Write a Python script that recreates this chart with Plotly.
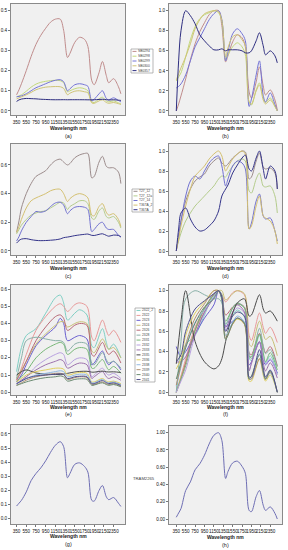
import plotly.graph_objects as go

# ---------------- data ----------------
W = [350, 400, 450, 550, 650, 750, 850, 950, 1050, 1150, 1250, 1320, 1400, 1450,
     1550, 1650, 1750, 1820, 1900, 1950, 2050, 2120, 2200, 2250, 2350, 2450, 2500]
W2 = [350, 450, 550, 750, 950, 1150, 1250, 1320, 1400, 1550, 1650, 1800, 1900,
      1950, 2120, 2200, 2250, 2350, 2500]
X_TICKS = [350, 550, 750, 950, 1150, 1350, 1550, 1750, 1950, 2150, 2350]

# (a) reflectance
A_NAMES = ["SB0294", "SB0298", "SB0299", "SB0300", "SB0357"]
A_SB0294 = [0.08, 0.105, 0.135, 0.2, 0.27, 0.33, 0.375, 0.41, 0.44, 0.455, 0.455, 0.40, 0.265, 0.285,
            0.34, 0.365, 0.355, 0.32, 0.15, 0.13, 0.19, 0.245, 0.175, 0.14, 0.16, 0.12, 0.085]
A_SB0298 = [0.07, 0.075, 0.08, 0.098, 0.118, 0.133, 0.142, 0.147, 0.15, 0.152, 0.15, 0.14, 0.095, 0.1,
            0.11, 0.115, 0.11, 0.1, 0.045, 0.042, 0.06, 0.068, 0.05, 0.045, 0.05, 0.04, 0.035]
A_SB0299 = [0.07, 0.072, 0.075, 0.085, 0.1, 0.115, 0.125, 0.135, 0.145, 0.152, 0.155, 0.145, 0.1, 0.11,
            0.13, 0.135, 0.13, 0.122, 0.05, 0.058, 0.085, 0.1, 0.062, 0.055, 0.065, 0.052, 0.045]
A_SB0300 = [0.06, 0.065, 0.07, 0.08, 0.092, 0.105, 0.113, 0.118, 0.12, 0.121, 0.12, 0.112, 0.08, 0.088,
            0.098, 0.1, 0.095, 0.09, 0.04, 0.038, 0.05, 0.055, 0.042, 0.038, 0.042, 0.036, 0.032]
A_SB0357 = [0.047, 0.055, 0.059, 0.062, 0.061, 0.06, 0.058, 0.057, 0.056, 0.0555, 0.0557, 0.0558, 0.0555, 0.0557,
            0.0557, 0.0557, 0.0555, 0.0552, 0.0552, 0.0555, 0.057, 0.058, 0.056, 0.0545, 0.0555, 0.0535, 0.0522]

# (b) normalised
B_SB0294 = [0.0, 0.07, 0.15, 0.32, 0.51, 0.67, 0.79, 0.88, 0.96, 1.0, 1.0, 0.85, 0.49, 0.55,
            0.69, 0.76, 0.73, 0.64, 0.19, 0.13, 0.29, 0.44, 0.25, 0.16, 0.21, 0.11, 0.01]
B_SB0298 = [0.30, 0.34, 0.38, 0.54, 0.71, 0.84, 0.92, 0.96, 0.98, 1.0, 0.98, 0.90, 0.51, 0.56,
            0.64, 0.68, 0.64, 0.56, 0.085, 0.06, 0.21, 0.28, 0.13, 0.085, 0.13, 0.043, 0.0]
B_SB0299 = [0.23, 0.245, 0.27, 0.36, 0.5, 0.64, 0.73, 0.82, 0.91, 0.97, 1.0, 0.91, 0.5, 0.59,
            0.77, 0.82, 0.77, 0.70, 0.045, 0.12, 0.36, 0.5, 0.155, 0.09, 0.18, 0.064, 0.0]
B_SB0300 = [0.31, 0.37, 0.43, 0.54, 0.67, 0.82, 0.91, 0.97, 0.99, 1.0, 0.99, 0.9, 0.54, 0.63,
            0.74, 0.76, 0.71, 0.65, 0.09, 0.07, 0.2, 0.26, 0.11, 0.07, 0.11, 0.045, 0.0]
B_SB0357 = [0.0, 0.5, 0.8, 1.0, 0.95, 0.87, 0.76, 0.7, 0.65, 0.61, 0.61, 0.62, 0.6, 0.61,
            0.61, 0.61, 0.6, 0.58, 0.58, 0.6, 0.7, 0.78, 0.65, 0.56, 0.6, 0.55, 0.48]

# (c) reflectance
C_NAMES = ["T27_12", "T27_12a", "T27_14", "T36TA_2", "T36TA"]
C_T27_12 = [0.13, 0.21, 0.3, 0.4, 0.47, 0.52, 0.54, 0.56, 0.6, 0.63, 0.64, 0.62, 0.6, 0.61,
            0.65, 0.67, 0.68, 0.68, 0.51, 0.52, 0.62, 0.66, 0.59, 0.58, 0.58, 0.55, 0.47]
C_T27_12a = [0.12, 0.15, 0.18, 0.22, 0.25, 0.265, 0.275, 0.28, 0.3, 0.32, 0.34, 0.335, 0.29, 0.31,
             0.33, 0.35, 0.35, 0.33, 0.23, 0.22, 0.28, 0.3, 0.24, 0.23, 0.24, 0.2, 0.16]
C_T27_14 = [0.07, 0.1, 0.14, 0.2, 0.24, 0.275, 0.27, 0.28, 0.31, 0.335, 0.34, 0.32, 0.26, 0.28,
            0.305, 0.31, 0.305, 0.29, 0.135, 0.15, 0.19, 0.2, 0.16, 0.15, 0.15, 0.11, 0.1]
C_T36TA_2 = [0.13, 0.17, 0.22, 0.3, 0.35, 0.37, 0.385, 0.4, 0.42, 0.43, 0.43, 0.4, 0.345, 0.365,
             0.39, 0.4, 0.39, 0.37, 0.25, 0.245, 0.31, 0.33, 0.27, 0.25, 0.26, 0.22, 0.17]
C_T36TA = [0.055, 0.073, 0.083, 0.086, 0.079, 0.074, 0.072, 0.073, 0.075, 0.078, 0.084, 0.093, 0.097, 0.1,
           0.107, 0.112, 0.116, 0.118, 0.109, 0.108, 0.116, 0.12, 0.109, 0.103, 0.111, 0.108, 0.097]

# (d) normalised
D_T27_12 = [0.0, 0.15, 0.3, 0.5, 0.62, 0.7, 0.74, 0.77, 0.85, 0.9, 0.93, 0.88, 0.85, 0.87,
            0.93, 0.97, 1.0, 0.99, 0.72, 0.74, 0.9, 0.98, 0.84, 0.82, 0.83, 0.78, 0.62]
D_T27_12a = [0.02, 0.1, 0.18, 0.3, 0.38, 0.45, 0.5, 0.55, 0.6, 0.65, 0.72, 0.75, 0.74, 0.78,
             0.85, 0.9, 0.92, 0.9, 0.6, 0.58, 0.72, 0.78, 0.65, 0.64, 0.65, 0.55, 0.38]
D_T27_14 = [0.0, 0.15, 0.3, 0.55, 0.7, 0.75, 0.72, 0.8, 0.88, 0.93, 0.95, 0.85, 0.65, 0.72,
            0.85, 0.9, 0.88, 0.82, 0.22, 0.28, 0.5, 0.57, 0.35, 0.32, 0.33, 0.2, 0.1]
D_T36TA_2 = [0.0, 0.12, 0.25, 0.45, 0.62, 0.75, 0.8, 0.85, 0.92, 0.97, 1.0, 0.95, 0.8, 0.84,
             0.92, 0.97, 1.0, 0.97, 0.22, 0.25, 0.45, 0.55, 0.35, 0.33, 0.3, 0.2, 0.07]
D_T36TA = [0.0, 0.22, 0.38, 0.43, 0.32, 0.24, 0.2, 0.21, 0.25, 0.3, 0.4, 0.55, 0.62, 0.66,
           0.78, 0.86, 0.93, 0.96, 0.82, 0.8, 0.93, 1.0, 0.82, 0.72, 0.85, 0.8, 0.62]

# (e) reflectance (grid W2)
E_NAMES = ["2322_2", "2322", "2323", "2324", "2326", "2328", "2331", "2332",
           "2333", "2335", "2336", "2338", "2339", "2340", "2341"]
E_2322_2 = [0.12, 0.26, 0.33, 0.37, 0.46, 0.55, 0.565, 0.52, 0.42, 0.46, 0.48, 0.45, 0.27, 0.26, 0.37, 0.29, 0.25, 0.28, 0.20]
E_2322 = [0.07, 0.14, 0.22, 0.36, 0.44, 0.5, 0.515, 0.5, 0.47, 0.51, 0.52, 0.5, 0.32, 0.3, 0.42, 0.36, 0.33, 0.36, 0.29]
E_2323 = [0.06, 0.1, 0.16, 0.27, 0.33, 0.38, 0.43, 0.40, 0.3, 0.32, 0.33, 0.31, 0.16, 0.17, 0.24, 0.18, 0.16, 0.18, 0.13]
E_2324 = [0.08, 0.13, 0.18, 0.28, 0.34, 0.39, 0.41, 0.41, 0.38, 0.4, 0.41, 0.4, 0.24, 0.23, 0.31, 0.27, 0.25, 0.26, 0.2]
E_2326 = [0.07, 0.12, 0.18, 0.3, 0.38, 0.44, 0.45, 0.43, 0.36, 0.39, 0.4, 0.39, 0.22, 0.21, 0.29, 0.24, 0.22, 0.24, 0.17]
E_2328 = [0.08, 0.2, 0.3, 0.32, 0.31, 0.3, 0.3, 0.29, 0.24, 0.28, 0.29, 0.28, 0.17, 0.16, 0.23, 0.19, 0.17, 0.18, 0.14]
E_2331 = [0.06, 0.09, 0.12, 0.2, 0.25, 0.28, 0.29, 0.28, 0.22, 0.25, 0.26, 0.25, 0.14, 0.14, 0.19, 0.15, 0.13, 0.15, 0.11]
E_2332 = [0.05, 0.07, 0.09, 0.15, 0.19, 0.22, 0.23, 0.22, 0.16, 0.19, 0.2, 0.19, 0.09, 0.1, 0.14, 0.11, 0.1, 0.11, 0.08]
E_2333 = [0.05, 0.07, 0.09, 0.13, 0.16, 0.18, 0.19, 0.18, 0.14, 0.16, 0.17, 0.16, 0.08, 0.09, 0.12, 0.09, 0.08, 0.09, 0.07]
E_2335 = [0.1, 0.12, 0.13, 0.112, 0.106, 0.103, 0.104, 0.106, 0.11, 0.118, 0.121, 0.122, 0.117, 0.117, 0.123, 0.119, 0.118, 0.119, 0.115]
E_2336 = [0.06, 0.08, 0.1, 0.12, 0.13, 0.14, 0.14, 0.135, 0.1, 0.11, 0.115, 0.11, 0.06, 0.06, 0.08, 0.065, 0.06, 0.065, 0.05]
E_2338 = [0.05, 0.065, 0.08, 0.1, 0.11, 0.12, 0.125, 0.12, 0.09, 0.1, 0.105, 0.1, 0.055, 0.055, 0.075, 0.06, 0.055, 0.06, 0.045]
E_2339 = [0.04, 0.055, 0.07, 0.09, 0.1, 0.11, 0.11, 0.105, 0.075, 0.085, 0.09, 0.085, 0.045, 0.045, 0.06, 0.05, 0.045, 0.05, 0.035]
E_2340 = [0.04, 0.05, 0.06, 0.075, 0.085, 0.09, 0.095, 0.09, 0.065, 0.075, 0.078, 0.075, 0.04, 0.042, 0.055, 0.045, 0.04, 0.045, 0.032]
E_2341 = [0.05, 0.065, 0.08, 0.095, 0.1, 0.105, 0.107, 0.103, 0.08, 0.09, 0.093, 0.09, 0.05, 0.05, 0.068, 0.056, 0.05, 0.055, 0.04]

# (f) normalised (grid W2)
F_2322_2 = [0.0, 0.31, 0.47, 0.56, 0.76, 0.97, 1.0, 0.9, 0.67, 0.76, 0.81, 0.74, 0.34, 0.31, 0.56, 0.38, 0.29, 0.36, 0.18]
F_2322 = [0.0, 0.16, 0.33, 0.64, 0.82, 0.96, 0.99, 0.96, 0.89, 0.98, 1.0, 0.96, 0.56, 0.51, 0.78, 0.64, 0.58, 0.64, 0.49]
F_2323 = [0.45, 0.35, 0.4, 0.57, 0.73, 0.86, 1.0, 0.92, 0.65, 0.7, 0.73, 0.68, 0.27, 0.3, 0.49, 0.32, 0.27, 0.32, 0.19]
F_2324 = [0.0, 0.15, 0.3, 0.61, 0.79, 0.94, 1.0, 1.0, 0.91, 0.97, 1.0, 0.97, 0.48, 0.45, 0.7, 0.58, 0.52, 0.55, 0.36]
F_2326 = [0.0, 0.13, 0.29, 0.61, 0.82, 0.97, 1.0, 0.95, 0.76, 0.84, 0.87, 0.84, 0.39, 0.37, 0.58, 0.45, 0.39, 0.45, 0.26]
F_2328 = [0.0, 0.5, 0.92, 1.0, 0.96, 0.92, 0.92, 0.88, 0.67, 0.83, 0.88, 0.83, 0.38, 0.33, 0.63, 0.46, 0.38, 0.42, 0.25]
F_2331 = [0.0, 0.13, 0.26, 0.61, 0.83, 0.96, 1.0, 0.96, 0.7, 0.83, 0.87, 0.83, 0.35, 0.35, 0.57, 0.39, 0.3, 0.39, 0.22]
F_2332 = [0.0, 0.11, 0.22, 0.56, 0.78, 0.94, 1.0, 0.94, 0.61, 0.78, 0.83, 0.78, 0.22, 0.28, 0.5, 0.33, 0.28, 0.33, 0.17]
F_2333 = [0.3, 0.3, 0.35, 0.57, 0.79, 0.93, 1.0, 0.93, 0.64, 0.79, 0.86, 0.79, 0.21, 0.29, 0.5, 0.29, 0.21, 0.29, 0.14]
F_2335 = [0.28, 0.7, 1.0, 0.5, 0.3, 0.23, 0.26, 0.33, 0.5, 0.78, 0.88, 0.92, 0.75, 0.76, 0.96, 0.82, 0.78, 0.8, 0.7]
F_2336 = [0.23, 0.33, 0.56, 0.78, 0.89, 1.0, 1.0, 0.94, 0.56, 0.67, 0.72, 0.67, 0.11, 0.11, 0.33, 0.17, 0.11, 0.17, 0.0]
F_2338 = [0.06, 0.25, 0.44, 0.69, 0.81, 0.94, 1.0, 0.94, 0.56, 0.69, 0.75, 0.69, 0.13, 0.13, 0.38, 0.19, 0.13, 0.19, 0.0]
F_2339 = [0.07, 0.27, 0.47, 0.73, 0.87, 1.0, 1.0, 0.93, 0.53, 0.67, 0.73, 0.67, 0.13, 0.13, 0.33, 0.2, 0.13, 0.2, 0.0]
F_2340 = [0.13, 0.29, 0.44, 0.68, 0.84, 0.92, 1.0, 0.92, 0.52, 0.68, 0.73, 0.68, 0.13, 0.16, 0.37, 0.21, 0.13, 0.21, 0.0]
F_2341 = [0.3, 0.37, 0.6, 0.82, 0.9, 0.97, 1.0, 0.94, 0.6, 0.75, 0.79, 0.75, 0.15, 0.15, 0.42, 0.24, 0.15, 0.22, 0.0]

# (g) mean reflectance, (h) normalised
G_NAMES = ["TRAM2265"]
G_TRAM2265 = [0.09, 0.11, 0.13, 0.19, 0.27, 0.32, 0.36, 0.41, 0.47, 0.52, 0.545, 0.51, 0.29, 0.32,
              0.385, 0.395, 0.37, 0.33, 0.13, 0.125, 0.2, 0.235, 0.155, 0.135, 0.15, 0.11, 0.087]
H_TRAM2265 = [0.02, 0.07, 0.12, 0.33, 0.43, 0.57, 0.64, 0.74, 0.87, 0.97, 1.0, 0.91, 0.47, 0.55,
              0.65, 0.67, 0.61, 0.53, 0.1, 0.085, 0.26, 0.33, 0.16, 0.1, 0.14, 0.065, 0.0]

# ---------------- styles / layout ----------------
AB_COLORS = ["#C08C8C", "#C3D97C", "#7474D6", "#CFC476", "#2E2E80"]
CD_COLORS = ["#9C8C8C", "#B4CC8C", "#7272D0", "#D4C070", "#34348A"]
EF_COLORS = ["#7FCFC4", "#E89A9A", "#6A5FD0", "#C8C078", "#B86A78", "#8AB0A8", "#78B878", "#B8A0E0",
             "#9C70AC", "#4A4A4A", "#E0D060", "#90B8E0", "#B09070", "#6A8A70", "#50508C"]
GH_COLORS = ["#6E6EB4"]

FIG_W, FIG_H = 288, 550
FONT = "Liberation Sans"


def px(x):
    return x / FIG_W


def py(y):
    return 1 - y / FIG_H


PANELS = [
    dict(tag="(a)", x=W, names=A_NAMES, colors=AB_COLORS,
         series=[A_SB0294, A_SB0298, A_SB0299, A_SB0300, A_SB0357],
         frame=(11, 125, 4, 115), xr=(235, 2585), yr=(-0.02, 0.53), dt=0.1, fmt=".1f", ty=127.5, ly=135.5),
    dict(tag="(b)", x=W, names=A_NAMES, colors=AB_COLORS,
         series=[B_SB0294, B_SB0298, B_SB0299, B_SB0300, B_SB0357],
         frame=(169, 282, 4, 115), xr=(195, 2600), yr=(-0.04, 1.067), dt=0.2, fmt=".1f", ty=127.5, ly=135.5),
    dict(tag="(c)", x=W, names=C_NAMES, colors=CD_COLORS,
         series=[C_T27_12, C_T27_12a, C_T27_14, C_T36TA_2, C_T36TA],
         frame=(11, 125, 144, 255), xr=(235, 2585), yr=(-0.028, 0.746), dt=0.2, fmt=".1f", ty=267.5, ly=275.5),
    dict(tag="(d)", x=W, names=C_NAMES, colors=CD_COLORS,
         series=[D_T27_12, D_T27_12a, D_T27_14, D_T36TA_2, D_T36TA],
         frame=(169, 282, 144, 255), xr=(195, 2600), yr=(-0.04, 1.07), dt=0.2, fmt=".1f", ty=267.5, ly=275.5),
    dict(tag="(e)", x=W2, names=E_NAMES, colors=EF_COLORS,
         series=[E_2322_2, E_2322, E_2323, E_2324, E_2326, E_2328, E_2331, E_2332,
                 E_2333, E_2335, E_2336, E_2338, E_2339, E_2340, E_2341],
         frame=(11, 125, 285, 395), xr=(235, 2585), yr=(-0.016, 0.624), dt=0.1, fmt=".1f", ty=406.5, ly=414),
    dict(tag="(f)", x=W2, names=E_NAMES, colors=EF_COLORS,
         series=[F_2322_2, F_2322, F_2323, F_2324, F_2326, F_2328, F_2331, F_2332,
                 F_2333, F_2335, F_2336, F_2338, F_2339, F_2340, F_2341],
         frame=(169, 282, 285, 395), xr=(195, 2600), yr=(-0.027, 1.056), dt=0.2, fmt=".1f", ty=406.5, ly=414),
    dict(tag="(g)", x=W, names=G_NAMES, colors=GH_COLORS, series=[G_TRAM2265],
         frame=(11, 125, 425, 524), xr=(235, 2585), yr=(-0.037, 0.663), dt=0.1, fmt=".1f", ty=536, ly=543.5),
    dict(tag="(h)", x=W, names=G_NAMES, colors=GH_COLORS, series=[H_TRAM2265],
         frame=(169, 282, 426, 524), xr=(195, 2600), yr=(-0.058, 1.078), dt=0.2, fmt=".2f", ty=536.5, ly=544.5),
]

fig = go.Figure()
layout = {}
annotations = []
shapes = []

for i, p in enumerate(PANELS, start=1):
    xa = "x" if i == 1 else f"x{i}"
    ya = "y" if i == 1 else f"y{i}"
    for nm, ys, col in zip(p["names"], p["series"], p["colors"]):
        fig.add_trace(go.Scatter(x=p["x"], y=ys, name=nm, mode="lines",
                                 line=dict(color=col, width=1, shape="spline", smoothing=0.9),
                                 xaxis=xa, yaxis=ya, showlegend=False, hoverinfo="skip"))
    l, r, t, b = p["frame"]
    common = dict(showline=True, mirror=True, linecolor="#8a8a8a", linewidth=1, showgrid=False,
                  zeroline=False, ticks="outside", ticklen=2, tickcolor="#777", tickwidth=0.8,
                  tickfont=dict(size=4.6, color="#111", family=FONT), fixedrange=True)
    layout["xaxis" if i == 1 else f"xaxis{i}"] = dict(
        domain=[px(l), px(r)], range=list(p["xr"]), anchor=ya, tickmode="array",
        tickvals=X_TICKS, tickangle=0, **common)
    layout["yaxis" if i == 1 else f"yaxis{i}"] = dict(
        domain=[py(b), py(t)], range=list(p["yr"]), anchor=xa, tickmode="linear",
        tick0=0, dtick=p["dt"], tickformat=p["fmt"], **common)
    cx = px((l + r) / 2)
    annotations.append(dict(x=cx, y=py(p["ty"]), xref="paper", yref="paper", text="<b>Wavelength nm</b>",
                            showarrow=False, xanchor="center", yanchor="middle",
                            font=dict(size=5, color="#222", family=FONT)))
    annotations.append(dict(x=cx, y=py(p["ly"]), xref="paper", yref="paper", text=p["tag"],
                            showarrow=False, xanchor="center", yanchor="middle",
                            font=dict(size=5.5, color="#222", family=FONT)))


def add_legend(box, names, colors):
    x0, y0, x1, y1 = box
    shapes.append(dict(type="rect", xref="paper", yref="paper", x0=px(x0), x1=px(x1),
                       y0=py(y1), y1=py(y0), line=dict(color="#9a9a9a", width=0.7),
                       fillcolor="white", layer="above"))
    h = (y1 - y0) / len(names)
    for k, (nm, c) in enumerate(zip(names, colors)):
        yc = y0 + h * (k + 0.5)
        shapes.append(dict(type="line", xref="paper", yref="paper", x0=px(x0 + 1.5),
                           x1=px(x0 + 5.5), y0=py(yc), y1=py(yc), line=dict(color=c, width=1)))
        annotations.append(dict(x=px(x0 + 6.3), y=py(yc), xref="paper", yref="paper", text=nm,
                                showarrow=False, xanchor="left", yanchor="middle", borderpad=0,
                                font=dict(size=3.3, color="#444", family=FONT)))


add_legend((131, 49, 153, 73), A_NAMES, AB_COLORS)
add_legend((132, 189, 153, 212), C_NAMES, CD_COLORS)
add_legend((135, 308, 155, 382), E_NAMES, EF_COLORS)
annotations.append(dict(x=px(144), y=py(479), xref="paper", yref="paper", text=G_NAMES[0],
                        showarrow=False, xanchor="center", yanchor="middle",
                        font=dict(size=4.2, color="#444", family=FONT)))

fig.update_layout(width=FIG_W, height=FIG_H, margin=dict(l=0, r=0, t=0, b=0),
                  paper_bgcolor="white", plot_bgcolor="#F0F0F0", showlegend=False,
                  font=dict(family=FONT), annotations=annotations, shapes=shapes, **layout)

fig.write_html("out.html", config={"displayModeBar": False},
               post_script="document.body.style.margin='0';document.body.style.overflow='hidden';")
